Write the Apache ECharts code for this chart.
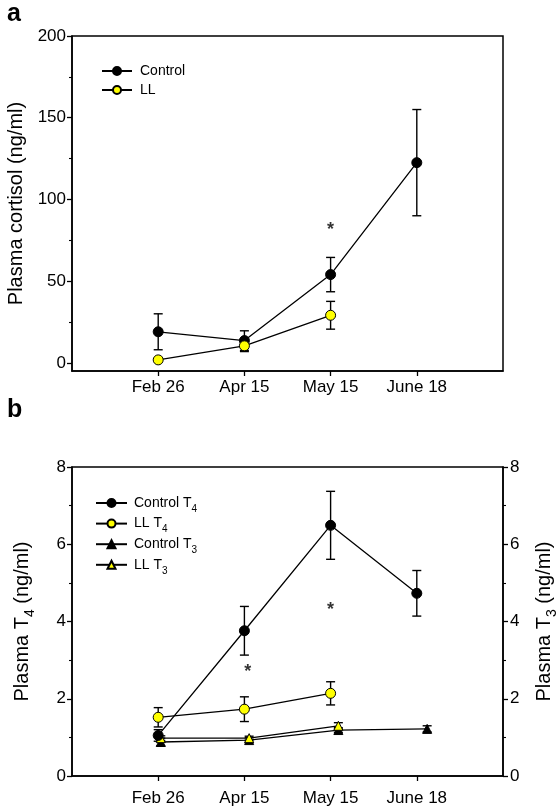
<!DOCTYPE html>
<html>
<head>
<meta charset="utf-8">
<script src="https://cdn.jsdelivr.net/npm/echarts@6/dist/echarts.min.js"></script>
<style>
  html, body { margin: 0; padding: 0; background: #fff; }
  #chart { width: 558px; height: 808px; }
</style>
</head>
<body>
<div id="chart"></div>
<script>
// Sampling dates (x positions 1..4 on a 0..5 value axis)
const dateLabels = ['Feb 26', 'Apr 15', 'May 15', 'June 18'];
const dateX = [1, 2, 3, 4];
// T3 samples sit slightly to the right of the T4 samples
const t3X = [1.03, 2.055, 3.09, 4.12];

// Panel a: plasma cortisol (ng/ml), mean and error
const cortisolControl = [19, 13.6, 54, 122.5];
const cortisolControlErr = [11, 6, 10.5, 32.5];
const cortisolLL = [1.8, 10.4, 29.1];
const cortisolLLErr = [0, 3.5, 8.5];
const cortisolSig = [[3, 83]];

// Panel b: plasma T4 and T3 (ng/ml), mean and error
const t4Control = [1.05, 3.76, 6.49, 4.73];
const t4ControlErr = [0.15, 0.63, 0.88, 0.59];
const t4LL = [1.52, 1.73, 2.14];
const t4LLErr = [0.25, 0.32, 0.3];
const t3Control = [0.88, 0.93, 1.19, 1.22];
const t3ControlErr = [0.1, 0.06, 0.06, 0.08];
const t3LL = [0.98, 0.98, 1.3];
const t3LLErr = [0.06, 0.05, 0.08];
const t4Sig = [[2.04, 2.78], [3.0, 4.37]];

const cortisolTicks = [0, 50, 100, 150, 200];
const cortisolMinorTicks = [25, 75, 125, 175];

const FONT = '"Liberation Sans", Arial, sans-serif';
const YELLOW = '#ffff00';

function pairs(xs, ys) { return ys.map((v, i) => [xs[i], v]); }
function errData(xs, ys, es) {
  return ys.map((v, i) => [xs[i], v - es[i], v + es[i], es[i]]);
}

function errorSeries(name, xAxisIndex, yAxisIndex, data) {
  return {
    name: name, type: 'custom', xAxisIndex: xAxisIndex, yAxisIndex: yAxisIndex,
    z: 2, silent: true, data: data,
    renderItem: function (params, api) {
      if (api.value(3) <= 0) return null;
      const x = api.value(0);
      const lo = api.coord([x, api.value(1)]);
      const hi = api.coord([x, api.value(2)]);
      const cap = 4.5;
      const st = { stroke: '#000', lineWidth: 1.4 };
      return {
        type: 'group',
        children: [
          { type: 'line', shape: { x1: lo[0], y1: lo[1], x2: hi[0], y2: hi[1] }, style: st },
          { type: 'line', shape: { x1: lo[0] - cap, y1: lo[1], x2: lo[0] + cap, y2: lo[1] }, style: st },
          { type: 'line', shape: { x1: hi[0] - cap, y1: hi[1], x2: hi[0] + cap, y2: hi[1] }, style: st }
        ]
      };
    }
  };
}

function lineSeries(name, xAxisIndex, yAxisIndex, data, symbol, fill, size) {
  return {
    name: name, type: 'line', xAxisIndex: xAxisIndex, yAxisIndex: yAxisIndex,
    data: data, z: 3, symbol: symbol, symbolSize: size, showSymbol: true,
    lineStyle: { color: '#000', width: 1.3 },
    itemStyle: { color: fill, borderColor: '#000', borderWidth: 1 },
    animation: false
  };
}

function sigSeries(xAxisIndex, yAxisIndex, data) {
  return {
    type: 'scatter', xAxisIndex: xAxisIndex, yAxisIndex: yAxisIndex,
    data: data, symbolSize: 1, itemStyle: { color: 'rgba(0,0,0,0)' }, silent: true,
    label: {
      show: true, position: 'inside', formatter: '*',
      fontFamily: FONT, fontSize: 18, fontWeight: 'bold', color: '#000', offset: [0, 3]
    }
  };
}

const axisText = { color: '#000', fontFamily: FONT, fontSize: 17 };
const blackLine = { show: true, onZero: false, lineStyle: { color: '#000', width: 1.5 } };

function xAxisFor(gridIndex, margin) {
  return {
    type: 'value', gridIndex: gridIndex, min: 0, max: 5, interval: 1,
    axisLine: blackLine,
    axisTick: { show: true, length: 5, inside: false, customValues: dateX, lineStyle: { color: '#000', width: 1.3 } },
    axisLabel: Object.assign({}, axisText, {
      margin: margin, customValues: dateX,
      formatter: v => { const i = dateX.indexOf(v); return i >= 0 ? dateLabels[i] : ''; }
    }),
    splitLine: { show: false }
  };
}

const subRich = {
  n: { fontFamily: FONT, fontSize: 20, color: '#000' },
  s: { fontFamily: FONT, fontSize: 14, color: '#000', verticalAlign: 'bottom', padding: [0, 0, -5, 0] }
};
const legendRich = {
  n: { fontFamily: FONT, fontSize: 14, color: '#000', lineHeight: 16 },
  s: { fontFamily: FONT, fontSize: 10, color: '#000', lineHeight: 16, verticalAlign: 'bottom', padding: [0, 0, -3, 0] }
};

const chart = echarts.init(document.getElementById('chart'), null, { renderer: 'canvas' });

const borderStyle = { show: true, borderColor: '#000', borderWidth: 1.5, backgroundColor: 'transparent',
  outerBoundsMode: 'none', containLabel: false };

const option = {
  animation: false,
  backgroundColor: '#fff',
  title: [
    { text: 'a', left: 7, top: 2, padding: 0, textStyle: { fontFamily: FONT, fontSize: 25, fontWeight: 'bold', color: '#000' } },
    { text: 'b', left: 7, top: 398, padding: 0, textStyle: { fontFamily: FONT, fontSize: 25, fontWeight: 'bold', color: '#000' } }
  ],
  grid: [
    Object.assign({ left: 72, top: 36, width: 431, height: 335 }, borderStyle),
    Object.assign({ left: 72, top: 467, width: 431, height: 309 }, borderStyle)
  ],
  legend: [
    {
      data: ['Control', 'LL'], orient: 'vertical', left: 101, top: 63, padding: 0,
      itemWidth: 30, itemHeight: 10, itemGap: 3,
      textStyle: { fontFamily: FONT, fontSize: 14, color: '#000', lineHeight: 16, padding: [0, 0, 0, 3] },
      selectedMode: false
    },
    {
      data: ['Control T4', 'LL T4', 'Control T3', 'LL T3'], orient: 'vertical', left: 95, top: 495, padding: 0,
      itemWidth: 31, itemHeight: 10, itemGap: 1.6,
      formatter: function (name) {
        const base = name.slice(0, -1), sub = name.slice(-1);
        return '{n|' + base + '}{s|' + sub + '}';
      },
      textStyle: { fontFamily: FONT, fontSize: 14, color: '#000', lineHeight: 16, padding: [0, 0, 0, 2], rich: legendRich },
      selectedMode: false
    }
  ],
  xAxis: [xAxisFor(0, 8), xAxisFor(1, 14)],
  yAxis: [
    {
      type: 'value', gridIndex: 0, min: -5, max: 200,
      name: 'Plasma cortisol (ng/ml)', nameLocation: 'middle', nameGap: 42, nameRotate: 90,
      nameTextStyle: { fontFamily: FONT, fontSize: 20, color: '#000' },
      axisLine: blackLine,
      axisTick: { show: true, length: 5, lineStyle: { color: '#000', width: 1.3 }, customValues: cortisolTicks },
      axisLabel: Object.assign({}, axisText, { margin: 6, customValues: cortisolTicks }),
      splitLine: { show: false }
    },
    {
      // minor ticks for the cortisol axis
      type: 'value', gridIndex: 0, min: -5, max: 200, position: 'left',
      axisLine: { show: false },
      axisTick: { show: true, length: 3, lineStyle: { color: '#000', width: 1.1 }, customValues: cortisolMinorTicks },
      axisLabel: { show: false, customValues: cortisolMinorTicks },
      splitLine: { show: false }
    },
    {
      type: 'value', gridIndex: 1, min: 0, max: 8, interval: 2, position: 'left',
      name: '{n|Plasma T}{s|4}{n| (ng/ml)}', nameLocation: 'middle', nameGap: 40, nameRotate: 90,
      nameTextStyle: { rich: subRich },
      axisLine: blackLine,
      axisTick: { show: true, length: 5, lineStyle: { color: '#000', width: 1.3 } },
      minorTick: { show: true, splitNumber: 2, length: 3, lineStyle: { color: '#000', width: 1.1 } },
      axisLabel: Object.assign({}, axisText, { margin: 6 }),
      splitLine: { show: false }, minorSplitLine: { show: false }
    },
    {
      type: 'value', gridIndex: 1, min: 0, max: 8, interval: 2, position: 'right',
      name: '{n|Plasma T}{s|3}{n| (ng/ml)}', nameLocation: 'middle', nameGap: 31, nameRotate: 90,
      nameTextStyle: { rich: subRich },
      axisLine: blackLine,
      axisTick: { show: true, length: 5, lineStyle: { color: '#000', width: 1.3 } },
      minorTick: { show: true, splitNumber: 2, length: 3, lineStyle: { color: '#000', width: 1.1 } },
      axisLabel: Object.assign({}, axisText, { margin: 7 }),
      splitLine: { show: false }, minorSplitLine: { show: false }
    }
  ],
  series: [
    errorSeries('Control err', 0, 0, errData(dateX, cortisolControl, cortisolControlErr)),
    errorSeries('LL err', 0, 0, errData(dateX, cortisolLL, cortisolLLErr)),
    lineSeries('Control', 0, 0, pairs(dateX, cortisolControl), 'circle', '#000', 10),
    lineSeries('LL', 0, 0, pairs(dateX, cortisolLL), 'circle', YELLOW, 10),
    sigSeries(0, 0, cortisolSig),

    errorSeries('Control T4 err', 1, 2, errData(dateX, t4Control, t4ControlErr)),
    errorSeries('LL T4 err', 1, 2, errData(dateX, t4LL, t4LLErr)),
    errorSeries('Control T3 err', 1, 3, errData(t3X, t3Control, t3ControlErr)),
    errorSeries('LL T3 err', 1, 3, errData(t3X, t3LL, t3LLErr)),
    lineSeries('Control T3', 1, 3, pairs(t3X, t3Control), 'triangle', '#000', 9),
    lineSeries('LL T3', 1, 3, pairs(t3X, t3LL), 'triangle', YELLOW, 9),
    lineSeries('Control T4', 1, 2, pairs(dateX, t4Control), 'circle', '#000', 10),
    lineSeries('LL T4', 1, 2, pairs(dateX, t4LL), 'circle', YELLOW, 10),
    sigSeries(1, 2, t4Sig)
  ]
};

chart.setOption(option);
</script>
</body>
</html>
